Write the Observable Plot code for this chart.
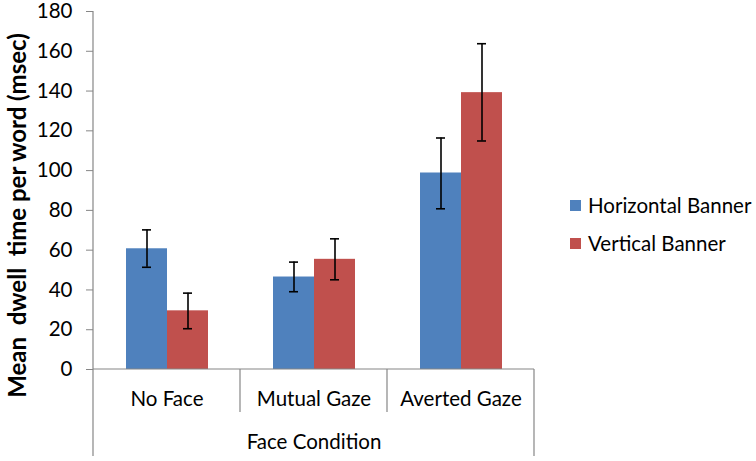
<!DOCTYPE html>
<html>
<head>
<meta charset="utf-8">
<script src="https://cdn.jsdelivr.net/npm/d3@7"></script>
<script src="https://cdn.jsdelivr.net/npm/@observablehq/plot@0.6"></script>
<style>
  html, body { margin: 0; padding: 0; background: #fff; }
  #wrap { position: relative; width: 756px; height: 461px; font-family: Lato, "Open Sans", sans-serif; }
  #legend { position: absolute; left: 570px; top: 194px; font-size: 20.5px; color: #000; }
  .item { display: flex; align-items: center; height: 22px; margin-bottom: 16px; }
  .sw { width: 11px; height: 11px; margin-right: 7px; }
</style>
</head>
<body>
<div id="wrap"><div id="legend"></div></div>
<script>
const categories = ["No Face", "Mutual Gaze", "Averted Gaze"];
const series = ["Horizontal Banner", "Vertical Banner"];
const colors = ["#4F81BD", "#C0504D"];
const horizontalMean = [60.7, 46.5, 98.8];
const verticalMean = [29.5, 55.4, 139.2];
const horizontalLow = [51.4, 39.1, 80.8];
const horizontalHigh = [70.2, 54.0, 116.4];
const verticalLow = [20.5, 45.1, 114.9];
const verticalHigh = [38.4, 65.7, 163.8];
const yTicks = [0, 20, 40, 60, 80, 100, 120, 140, 160, 180];
const yTitle = "Mean\u00a0 dwell\u00a0 time per word (msec)";
const xTitle = "Face Condition";

const data = [];
categories.forEach((c, i) => {
  data.push({category: c, series: series[0], value: horizontalMean[i], low: horizontalLow[i], high: horizontalHigh[i]});
  data.push({category: c, series: series[1], value: verticalMean[i], low: verticalLow[i], high: verticalHigh[i]});
});

const chart = Plot.plot({
  width: 756,
  height: 461,
  marginLeft: 93,
  marginRight: 222,
  marginTop: 11,
  marginBottom: 92,
  style: {fontFamily: "Lato, 'Open Sans', sans-serif", fontSize: "20.5px", color: "#000", background: "#fff"},
  fx: {domain: categories, padding: 0, label: null},
  x: {domain: series, paddingInner: 0, paddingOuter: 0.757, axis: null},
  y: {domain: [0, 180]},
  color: {domain: series, range: colors},
  marks: [
    Plot.barY(data, {fx: "category", x: "series", y: "value", fill: "series"}),
    Plot.ruleX(data, {fx: "category", x: "series", y1: "low", y2: "high", stroke: "#000", strokeWidth: 1.6}),
    Plot.tickY(data, {fx: "category", x: "series", y: "low", stroke: "#000", strokeWidth: 1.6, inset: 16}),
    Plot.tickY(data, {fx: "category", x: "series", y: "high", stroke: "#000", strokeWidth: 1.6, inset: 16}),
    Plot.axisY({ticks: yTicks, tickSize: 7, tickPadding: 14, stroke: "#868686", label: yTitle, labelAnchor: "center", labelArrow: "none", labelOffset: 85}),
    Plot.axisFx({anchor: "bottom", tickSize: 0, tickPadding: 22, label: xTitle, labelAnchor: "center", labelArrow: "none", labelOffset: 79})
  ]
});

// draw the category bracket lines from the library's scales
const svg = d3.select(chart);
const fx = chart.scale("fx");
const y = chart.scale("y");
const y0 = y.apply(0);
const yTop = y.apply(180);
const left = fx.apply(categories[0]);
const right = fx.apply(categories[categories.length - 1]) + fx.bandwidth;
const g = svg.append("g").attr("stroke", "#868686").attr("stroke-width", 1.2).attr("fill", "none");
g.append("line").attr("x1", left).attr("x2", right).attr("y1", y0).attr("y2", y0);
g.append("line").attr("x1", left).attr("x2", left).attr("y1", yTop).attr("y2", y0 + 87);
g.append("line").attr("x1", right).attr("x2", right).attr("y1", y0).attr("y2", y0 + 87);
categories.slice(1).forEach(c => {
  const xx = fx.apply(c);
  g.append("line").attr("x1", xx).attr("x2", xx).attr("y1", y0).attr("y2", y0 + 43);
});
const yl = svg.selectAll("[aria-label='y-axis label']").attr("font-weight", "bold").attr("font-size", "24px");
yl.selectAll("text").attr("dx", -25);

document.getElementById("wrap").prepend(chart);
chart.style.position = "absolute";
chart.style.left = "0";
chart.style.top = "0";

const legend = document.getElementById("legend");
series.forEach((s, i) => {
  const item = document.createElement("div");
  item.className = "item";
  item.innerHTML = `<div class="sw" style="background:${colors[i]}"></div><span>${s}</span>`;
  legend.appendChild(item);
});
</script>
</body>
</html>
